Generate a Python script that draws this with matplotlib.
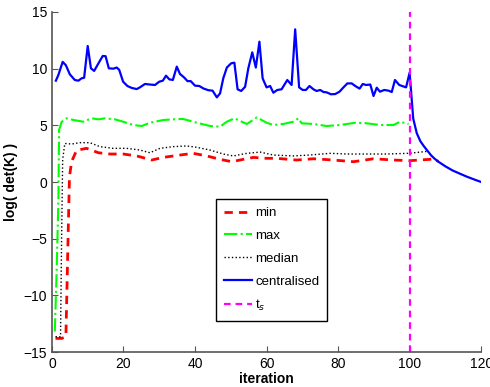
import numpy as np
import matplotlib.pyplot as plt

plt.rcParams['font.family'] = ['Liberation Sans', 'DejaVu Sans']

# centralised (blue)
cen_x = [1.1, 1.8, 3.0, 3.9, 5.0, 6.4, 7.4, 8.3, 9.0, 10.0, 10.9, 11.8, 13.0, 14.2, 15.0,
         15.9, 17.2, 18.1, 18.8, 19.9, 21.1, 22.3, 23.7, 24.6, 26.0, 27.4, 28.8, 30.0, 31.0,
         31.9, 32.8, 33.8, 34.9, 35.8, 36.9, 37.9, 38.8, 40.0, 41.2, 42.3, 43.7, 44.9, 46.1,
         47.0, 47.9, 48.9, 50.1, 51.0, 51.9, 52.9, 54.0, 54.9, 56.0, 57.0, 58.0, 58.9, 60.0,
         61.0, 61.9, 63.0, 64.2, 65.8, 67.0, 68.0, 69.1, 70.1, 71.0, 72.0, 73.1, 74.0, 75.0,
         75.9, 76.8, 78.0, 79.2, 80.4, 81.5, 82.6, 83.8, 84.8, 86.0, 86.9, 87.8, 89.0, 89.9,
         90.8, 91.7, 92.9, 94.1, 95.0, 95.9, 97.1, 99.0, 100.0,
         100.6, 101, 102, 103, 104, 105, 106, 107, 108, 110, 112, 114, 116, 118, 120]
cen_y = [8.94, 9.44, 10.6, 10.3, 9.5, 9.0, 8.94, 9.15, 9.2, 12.0, 10.03, 9.8, 10.47, 11.12, 11.1,
         10.03, 10.0, 10.1, 9.9, 8.85, 8.47, 8.3, 8.2, 8.35, 8.65, 8.6, 8.56, 8.85, 8.94,
         9.38, 9.06, 9.0, 10.18, 9.53, 9.24, 8.9, 8.9, 8.5, 8.47, 8.26, 8.1, 8.06, 7.47,
         7.82, 9.15, 10.1, 10.47, 10.53, 8.18, 8.03, 8.4, 10.03, 11.44, 10.1, 12.38, 9.15, 8.35,
         8.47, 7.88, 8.12, 8.18, 9.0, 8.56, 13.47, 8.35, 8.12, 8.12, 8.47, 8.18, 8.03, 8.12,
         7.94, 7.91, 7.74, 7.76, 7.97, 8.35, 8.7, 8.7, 8.47, 8.24, 8.65, 8.56, 8.6, 7.59,
         8.32, 7.97, 8.12, 8.06, 7.94, 9.0, 8.56, 8.35, 9.65,
         7.2, 5.6, 4.3, 3.6, 3.15, 2.75, 2.35, 2.05, 1.8, 1.38, 1.02, 0.74, 0.47, 0.23, 0.0]

# min (red)
min_x = [1.0, 2.7, 3.9, 4.6, 4.9, 5.5, 6.9, 9.7, 13.0, 16.2, 19.9, 23.7, 27.9, 31.1, 35.8,
         39.5, 43.3, 47.0, 50.3, 53.5, 56.3, 60.0, 62.8, 68.4, 73.1, 78.7, 84.3, 89.9, 95.5,
         100.0, 105.7, 107, 108]
min_y = [-13.8, -13.8, -13.65, -3.65, 0.47, 1.8, 2.8, 2.97, 2.58, 2.47, 2.47, 2.3, 1.94, 2.17, 2.38,
         2.53, 2.3, 2.0, 1.79, 2.0, 2.17, 2.09, 2.09, 1.94, 2.05, 1.94, 1.79, 2.05, 1.94,
         1.88, 2.0, 2.05, 1.8]

# max (green)
max_x = [0.8, 1.3, 1.8, 2.0, 2.7, 4.1, 6.0, 8.8, 11.1, 13.0, 14.8, 17.6, 19.9, 22.7, 25.1,
         27.4, 31.1, 33.9, 36.7, 40.5, 44.2, 47.0, 48.9, 51.0, 54.5, 57.3, 60.0, 61.9, 64.7,
         67.5, 68.9, 69.8, 73.1, 76.8, 80.6, 84.8, 88.0, 91.7, 95.5, 97.3, 99.7]
max_y = [-13.2, -8.0, -1.6, 4.6, 5.3, 5.62, 5.47, 5.32, 5.62, 5.53, 5.62, 5.53, 5.32, 5.03, 4.94,
         5.23, 5.47, 5.53, 5.56, 5.23, 4.94, 4.88, 5.32, 5.62, 5.12, 5.7, 5.23, 5.03, 5.12,
         5.32, 5.62, 5.18, 5.12, 4.94, 5.03, 5.23, 5.18, 5.03, 5.03, 5.32, 5.12]

# median (black dotted)
med_x = [1.0, 2.4, 2.7, 3.0, 3.6, 5.5, 7.8, 10.6, 13.4, 17.1, 20.9, 24.6, 27.4, 30.2, 33.9,
         37.7, 40.5, 44.2, 47.9, 50.7, 54.5, 58.2, 61.9, 67.5, 72.0, 77.8, 82.6, 88.0, 93.5,
         99.7, 104.8]
med_y = [-13.65, -13.65, -5.0, 2.0, 3.4, 3.35, 3.47, 3.47, 3.12, 2.97, 2.97, 2.82, 2.58, 2.97, 3.12,
         3.18, 3.06, 2.82, 2.47, 2.3, 2.53, 2.64, 2.38, 2.3, 2.38, 2.53, 2.47, 2.47, 2.47,
         2.53, 2.7]

t_s = 100

fig = plt.figure(figsize=(4.9, 3.87), dpi=100)
ax = fig.add_axes([0.106, 0.0904, 0.876, 0.8786])

ax.plot(min_x, min_y, '--', color='red', lw=2, dashes=(3, 2.2), label='min')
ax.plot(max_x, max_y, '-.', color=(0, 1, 0), lw=1.5, label='max')
ax.plot(med_x, med_y, ':', color='black', lw=1, label='median')
ax.plot(cen_x, cen_y, '-', color='blue', lw=1.6, label='centralised')
ax.plot([t_s, t_s], [-15, 15], '--', color='magenta', lw=1.6, dashes=(3, 2.2), label='t$_s$')

ax.set_xlim(0, 120)
ax.set_ylim(-15, 15)
ax.set_xticks(np.arange(0, 121, 20))
ax.set_yticks(np.arange(-15, 16, 5))
ax.tick_params(direction='in', length=4, labelsize=10, color='#555555')
for s in ['top', 'right']:
    ax.spines[s].set_visible(False)
for s in ['left', 'bottom']:
    ax.spines[s].set_color('#555555')
    ax.spines[s].set_linewidth(1.2)

ax.set_xlabel('iteration', fontweight='bold', fontsize=10, labelpad=1)
ax.set_ylabel('log( det(K) )', fontweight='bold', fontsize=10, labelpad=4)

leg = ax.legend(loc='lower left', bbox_to_anchor=(0.383, 0.091), fontsize=9.5,
                handlelength=2.1, handletextpad=0.25, labelspacing=0.8,
                fancybox=False, framealpha=1, borderpad=0.6, borderaxespad=0)
leg.get_frame().set_edgecolor('black')
leg.get_frame().set_linewidth(1)

fig.savefig('out.png', dpi=100)
